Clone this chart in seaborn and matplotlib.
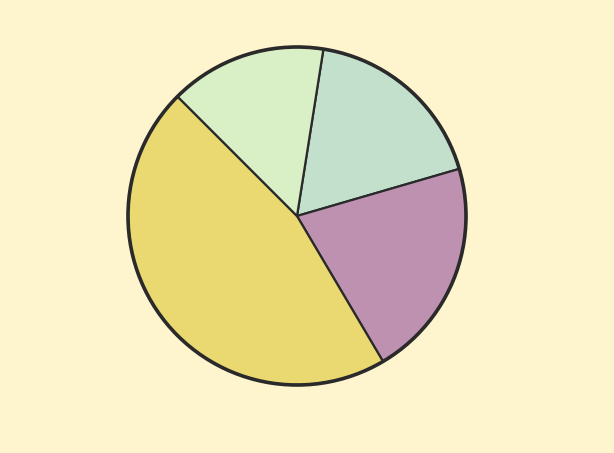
import matplotlib
matplotlib.use("Agg")
import matplotlib.pyplot as plt
import seaborn as sns
from matplotlib.patches import Circle

categories = ["A", "B", "C", "D"]
values = [18, 21, 46, 15]
colors = ["#C2E0CB", "#BF91B0", "#EAD870", "#D9F0C6"]

sns.set_theme(style="white")
bg = "#FEF4CE"
fig = plt.figure(figsize=(6.14, 4.53), dpi=100, facecolor=bg)
ax = fig.add_axes([0, 0, 1, 1])
ax.set_facecolor(bg)

ax.pie(values, colors=sns.color_palette(colors), startangle=81, counterclock=False,
       radius=1, center=(0, 0),
       wedgeprops=dict(edgecolor="#2a2a2a", linewidth=1.6))
ax.add_patch(Circle((0, 0), 1, fill=False, edgecolor="#2a2a2a", linewidth=2.6))

cx, cy, r = 297, 216, 169
ax.set_aspect("auto")
ax.set_xlim(-cx / r, (614 - cx) / r)
ax.set_ylim(-(453 - cy) / r, cy / r)
ax.axis("off")
fig.savefig("out.png", dpi=100, facecolor=bg)
